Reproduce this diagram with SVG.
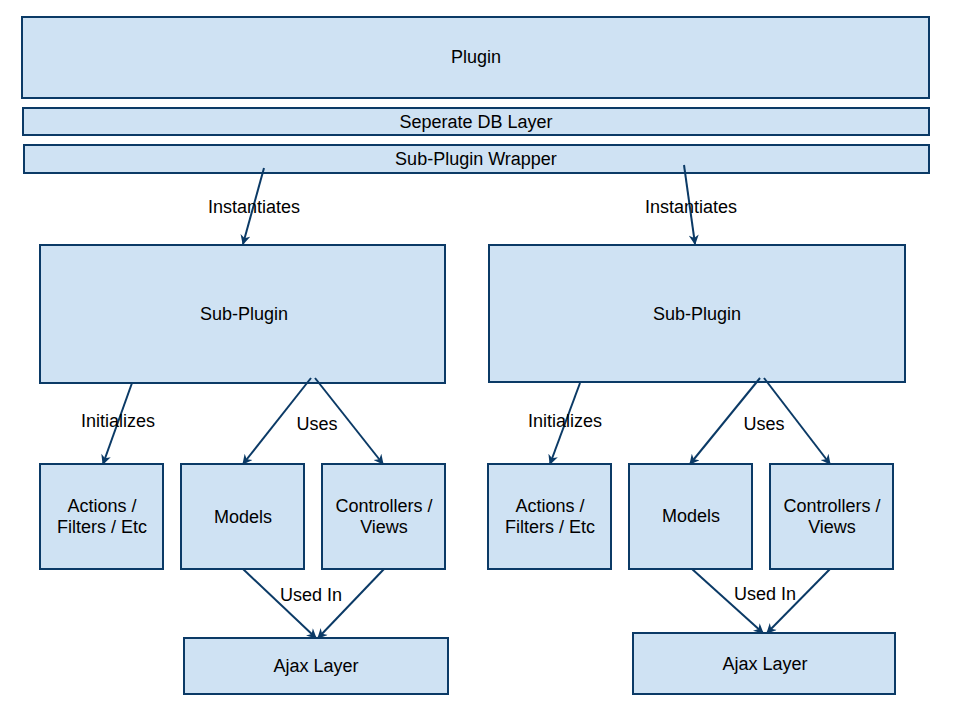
<svg xmlns="http://www.w3.org/2000/svg" width="960" height="720" viewBox="0 0 960 720">
<style>
.n{fill:#cfe2f3;stroke:#0b3a66;stroke-width:2}
.t{font-family:"Liberation Sans",Arial,sans-serif;font-size:18px;fill:#000;text-anchor:middle;dominant-baseline:central}
.c{stroke:#0b3a66;stroke-width:2;fill:none;marker-end:url(#ah)}
</style>
<defs>
<marker id="ah" viewBox="0 0 10 10" refX="9" refY="5" markerWidth="12" markerHeight="10" orient="auto" markerUnits="userSpaceOnUse" ><path d="M0,0 L10,5 L0,10 L3,5 Z" fill="#0b3a66"/></marker>
</defs>
<rect width="960" height="720" fill="#fff"/>
<g id="plugin"><rect class="n" x="22" y="17" width="907" height="81"/><text class="t" x="476" y="57">Plugin</text></g>
<g id="dblayer"><rect class="n" x="23" y="108" width="906" height="27"/><text class="t" x="476" y="122">Seperate DB Layer</text></g>
<g id="wrapper"><rect class="n" x="24" y="145" width="905" height="28"/><text class="t" x="476" y="159">Sub-Plugin Wrapper</text></g>
<g id="subL"><rect class="n" x="40" y="245" width="405" height="138"/><text class="t" x="244" y="314">Sub-Plugin</text></g>
<g id="subR"><rect class="n" x="489" y="245" width="416" height="137"/><text class="t" x="697" y="314">Sub-Plugin</text></g>
<g id="actL"><rect class="n" x="40" y="464" width="123" height="105"/><text class="t" x="102" y="506">Actions /</text><text class="t" x="102" y="527">Filters / Etc</text></g>
<g id="modL"><rect class="n" x="181" y="464" width="123" height="105"/><text class="t" x="243" y="517">Models</text></g>
<g id="conL"><rect class="n" x="322" y="464" width="123" height="105"/><text class="t" x="384" y="506">Controllers /</text><text class="t" x="384" y="527">Views</text></g>
<g id="actR"><rect class="n" x="488" y="464" width="123" height="105"/><text class="t" x="550" y="506">Actions /</text><text class="t" x="550" y="527">Filters / Etc</text></g>
<g id="modR"><rect class="n" x="629" y="464" width="123" height="105"/><text class="t" x="691" y="516">Models</text></g>
<g id="conR"><rect class="n" x="770" y="464" width="123" height="105"/><text class="t" x="832" y="506">Controllers /</text><text class="t" x="832" y="527">Views</text></g>
<g id="ajaxL"><rect class="n" x="184" y="638" width="264" height="56"/><text class="t" x="316" y="666">Ajax Layer</text></g>
<g id="ajaxR"><rect class="n" x="633" y="633" width="262" height="61"/><text class="t" x="765" y="664">Ajax Layer</text></g>
<g id="connectors">
<line class="c" x1="264" y1="168" x2="243" y2="244"/>
<line class="c" x1="684" y1="165" x2="695" y2="244"/>
<line class="c" x1="132" y1="383" x2="103" y2="464"/>
<line class="c" x1="580" y1="383" x2="550" y2="464"/>
<line class="c" x1="311" y1="378" x2="243" y2="464"/>
<line class="c" x1="315" y1="378" x2="383" y2="464"/>
<line class="c" x1="760" y1="378" x2="690" y2="464"/>
<line class="c" x1="764" y1="378" x2="830" y2="464"/>
<line class="c" x1="243" y1="569" x2="316" y2="638"/>
<line class="c" x1="384" y1="569" x2="318" y2="638"/>
<line class="c" x1="692" y1="569" x2="763" y2="633"/>
<line class="c" x1="830" y1="569" x2="767" y2="633"/>
<text class="t" x="254" y="207">Instantiates</text>
<text class="t" x="691" y="207">Instantiates</text>
<text class="t" x="118" y="421">Initializes</text>
<text class="t" x="565" y="421">Initializes</text>
<text class="t" x="317" y="424">Uses</text>
<text class="t" x="764" y="424">Uses</text>
<text class="t" x="311" y="595">Used In</text>
<text class="t" x="765" y="594">Used In</text>
</g>
</svg>
